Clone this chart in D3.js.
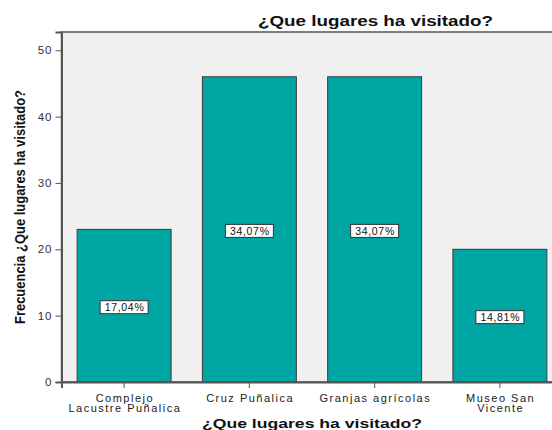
<!DOCTYPE html>
<html>
<head>
<meta charset="utf-8">
<script src="https://cdn.jsdelivr.net/npm/d3@7"></script>
<style>
  html, body { margin: 0; padding: 0; background: #fff; }
  svg { display: block; }
</style>
</head>
<body>
<div id="chart"></div>
<script>
// categories and counts
const places = [
    ["Complejo", "Lacustre Puñalica"],
    ["Cruz Puñalica"],
    ["Granjas agrícolas"],
    ["Museo San", "Vicente"]
];
const counts = [23, 46, 46, 20];
const percentLabels = ["17,04%", "34,07%", "34,07%", "14,81%"];
const yTicks = [0, 10, 20, 30, 40, 50];

const chartTitle = "¿Que lugares ha visitado?";
const xTitle = "¿Que lugares ha visitado?";
const yTitle = "Frecuencia ¿Que lugares ha visitado?";

document.addEventListener("DOMContentLoaded", function () {

    const width = 552;
    const height = 430;
    const plot = { left: 61.5, top: 32, right: 562.5, bottom: 382 };
    const font = "Liberation Sans, Arial, sans-serif";

    const svg = d3.select("#chart")
        .append("svg")
        .attr("width", width)
        .attr("height", height);

    const x = d3.scaleBand()
        .domain(d3.range(counts.length))
        .range([plot.left, plot.right])
        .paddingInner(0.25)
        .paddingOuter(0.125);

    const y = d3.scaleLinear()
        .domain([0, 52.75])
        .range([plot.bottom, plot.top]);

    // plot background
    svg.append("rect")
        .attr("x", plot.left)
        .attr("y", plot.top)
        .attr("width", plot.right - plot.left)
        .attr("height", plot.bottom - plot.top)
        .attr("fill", "#f0f0f0")
        .attr("stroke", "#555")
        .attr("stroke-width", 1.5);

    // bars
    svg.selectAll("rect.bar")
        .data(counts)
        .enter().append("rect")
        .attr("class", "bar")
        .attr("x", (d, i) => x(i))
        .attr("y", d => y(d))
        .attr("width", x.bandwidth())
        .attr("height", d => y(0) - y(d))
        .attr("fill", "#00a6a3")
        .attr("stroke", "#3a3a3a")
        .attr("stroke-width", 1);

    // percent boxes at mid height of each bar
    const lab = svg.selectAll("g.lab")
        .data(counts)
        .enter().append("g")
        .attr("class", "lab")
        .attr("transform", (d, i) => `translate(${x(i) + x.bandwidth() / 2},${(y(d) + y(0)) / 2 + 1.5})`);

    lab.append("rect")
        .attr("x", -24)
        .attr("y", -6.5)
        .attr("width", 48)
        .attr("height", 13)
        .attr("fill", "#fff")
        .attr("stroke", "#333")
        .attr("stroke-width", 1);

    lab.append("text")
        .attr("text-anchor", "middle")
        .attr("x", 0.4)
        .attr("dy", "0.36em")
        .style("font-family", font)
        .style("font-size", "10.5px")
        .style("letter-spacing", "0.7px")
        .attr("fill", "#111")
        .text((d, i) => percentLabels[i]);

    // y axis
    const yAxis = svg.append("g")
        .attr("transform", `translate(${plot.left},0)`)
        .call(d3.axisLeft(y).tickValues(yTicks).tickSize(6).tickPadding(3));
    yAxis.select(".domain").attr("stroke", "#555").attr("stroke-width", 2);
    yAxis.selectAll(".tick line").attr("stroke", "#555");
    yAxis.selectAll(".tick text")
        .style("font-family", font)
        .style("font-size", "11.5px")
        .style("letter-spacing", "1px")
        .attr("fill", "#333");

    // x axis
    const xAxis = svg.append("g")
        .attr("transform", `translate(0,${plot.bottom})`)
        .call(d3.axisBottom(x).tickSize(6).tickFormat(""));
    xAxis.select(".domain").attr("stroke", "#555").attr("stroke-width", 2);
    xAxis.selectAll(".tick line").attr("stroke", "#555");

    // multi-line category labels
    svg.selectAll("text.cat")
        .data(places)
        .enter().append("text")
        .attr("class", "cat")
        .attr("text-anchor", "middle")
        .style("font-family", font)
        .style("font-size", "11px")
        .style("letter-spacing", "1.5px")
        .attr("fill", "#222")
        .attr("y", 401.5)
        .each(function (lines, i) {
            d3.select(this).selectAll("tspan")
                .data(lines)
                .enter().append("tspan")
                .attr("x", x(i) + x.bandwidth() / 2 + 0.75)
                .attr("dy", (l, j) => j === 0 ? 0 : 10)
                .text(l => l);
        });

    // titles
    svg.append("text")
        .attr("x", 375.5)
        .attr("y", 26)
        .attr("text-anchor", "middle")
        .style("font-family", font)
        .style("font-size", "14px")
        .style("font-weight", "bold")
        .attr("fill", "#111")
        .attr("textLength", 235)
        .attr("lengthAdjust", "spacingAndGlyphs")
        .text(chartTitle);

    svg.append("text")
        .attr("x", 312)
        .attr("y", 427.5)
        .attr("text-anchor", "middle")
        .style("font-family", font)
        .style("font-size", "13.5px")
        .style("font-weight", "bold")
        .attr("fill", "#111")
        .attr("textLength", 220)
        .attr("lengthAdjust", "spacingAndGlyphs")
        .text(xTitle);

    svg.append("text")
        .attr("transform", "translate(24.5,207) rotate(-90)")
        .attr("text-anchor", "middle")
        .style("font-family", "Liberation Sans Narrow, Arial Narrow, Liberation Sans, sans-serif")
        .style("font-size", "14px")
        .style("font-weight", "bold")
        .attr("fill", "#111")
        .attr("textLength", 234)
        .attr("lengthAdjust", "spacingAndGlyphs")
        .text(yTitle);
});
</script>
</body>
</html>
